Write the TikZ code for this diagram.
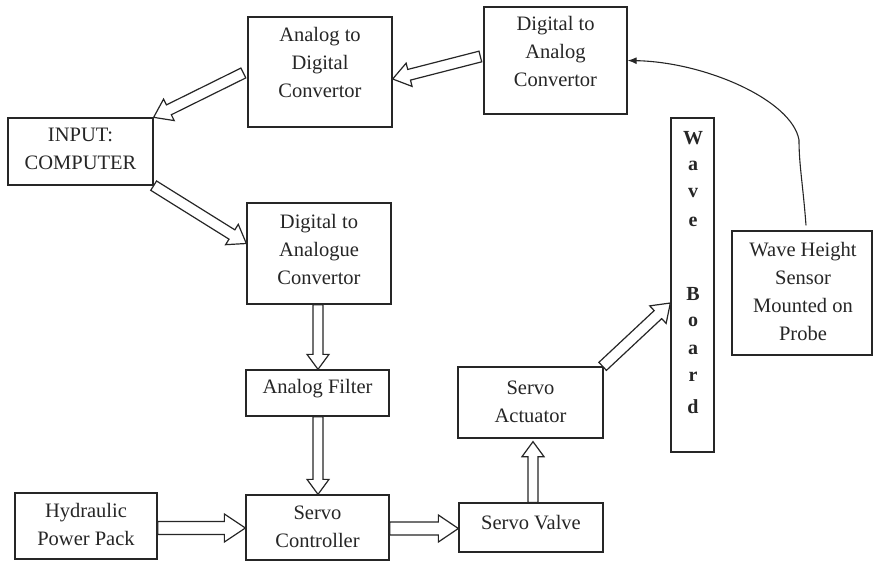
\documentclass[tikz,border=0pt]{standalone}
\usepackage{fontspec}
\setmainfont{Liberation Serif}
\usetikzlibrary{calc,arrows.meta}
\tikzset{
  box/.style={draw=black!85, line width=1.3pt, fill=white, inner sep=0pt, rectangle},
  txt/.style={align=center, inner sep=0pt, font=\fontsize{20.5}{28}\selectfont, text=black!85},
  wbl/.style={inner sep=0pt, font=\fontsize{20}{24}\selectfont\bfseries, text=black!85},
  barrowstyle/.style={draw=black!85, line width=1.2pt, fill=white, line join=miter},
  thin/.style={draw=black!85, line width=1.1pt}
}
\newcommand\barrow[5]{%
  \coordinate (bh) at ($(#2)!#5!(#1)$);
  \draw[barrowstyle] ($(#1)!#3!90:(#2)$) -- ($(bh)!#3!90:(#2)$) -- ($(bh)!#4!90:(#2)$)
     -- (#2) -- ($(bh)!#4!-90:(#2)$) -- ($(bh)!#3!-90:(#2)$) -- ($(#1)!#3!-90:(#2)$) -- cycle;
}
\begin{document}
\begin{tikzpicture}[x=1pt,y=-1pt]
\useasboundingbox (0,0) rectangle (873,562);
% boxes
\node[box, minimum width=144pt, minimum height=110pt] (adc) at (320,72) {};
\node[box, minimum width=143pt, minimum height=107pt] (dac) at (555.5,60.5) {};
\node[box, minimum width=145pt, minimum height=67pt] (inp) at (80.5,151.5) {};
\node[box, minimum width=144pt, minimum height=101pt] (dau) at (319,253.5) {};
\node[box, minimum width=143pt, minimum height=46pt] (filt) at (317.5,393) {};
\node[box, minimum width=142pt, minimum height=66pt] (hyd) at (86,526) {};
\node[box, minimum width=143pt, minimum height=65pt] (ctrl) at (317.5,527.5) {};
\node[box, minimum width=144pt, minimum height=49pt] (valve) at (531,527.5) {};
\node[box, minimum width=145pt, minimum height=71pt] (act) at (530.5,402.5) {};
\node[box, minimum width=43pt, minimum height=334pt] (wb) at (692.5,285) {};
\node[box, minimum width=140pt, minimum height=124pt] (sens) at (802,293) {};
% texts
\node[txt] (adct) at (320,62) {Analog to\\Digital\\Convertor};
\node[txt] (dact) at (555.5,51) {Digital to\\Analog\\Convertor};
\node[txt] (inpt) at (80.5,149) {INPUT:\\COMPUTER};
\node[txt] (daut) at (319,249) {Digital to\\Analogue\\Convertor};
\node[txt] (filtt) at (317.5,389) {Analog Filter};
\node[txt] (hydt) at (86,524) {Hydraulic\\Power Pack};
\node[txt] (ctrlt) at (317.5,527) {Servo\\Controller};
\node[txt] (valvet) at (531,523) {Servo Valve};
\node[txt] (actt) at (530.5,402) {Servo\\Actuator};
\node[txt] (senst) at (803,291) {Wave Height\\Sensor\\Mounted on\\Probe};
\foreach \l/\y [count=\i] in {W/138,a/166,v/193,e/222,B/294,o/322,a/350,r/377,d/407}
  \node[wbl] (wbt\i) at (693,\y) {\l};
% connector coordinates
\coordinate (a1t) at ($(dac.west)+(-3,-4)$);
\coordinate (a1h) at ($(adc.east)+(0,7)$);
\coordinate (a2t) at ($(adc.west)+(-4,1)$);
\coordinate (a2h) at (inp.north east);
\coordinate (a3t) at (inp.south east);
\coordinate (a3h) at ($(dau.west)+(0,-10)$);
\coordinate (a4t) at ($(dau.south)+(-1,0)$);
\coordinate (a4h) at ($(filt.north)+(0.5,0)$);
\coordinate (a5t) at ($(filt.south)+(0.5,0)$);
\coordinate (a5h) at ($(ctrl.north)+(0.5,0)$);
\coordinate (a6t) at ($(hyd.east)+(0,2)$);
\coordinate (a6h) at ($(ctrl.west)+(0,0.5)$);
\coordinate (a7t) at ($(ctrl.east)+(0,1)$);
\coordinate (a7h) at ($(valve.west)+(0,1)$);
\coordinate (a8t) at ($(valve.north)+(2,0)$);
\coordinate (a8h) at ($(act.south)+(2.5,3)$);
\coordinate (a9t) at ($(act.north east)+(-1,0)$);
\coordinate (a9h) at ($(wb.west)+(0,18)$);
% block arrows
\barrow{a1t}{a1h}{5.5pt}{12pt}{17pt}
\barrow{a2t}{a2h}{5.5pt}{12pt}{17pt}
\barrow{a3t}{a3h}{5.5pt}{12pt}{17pt}
\barrow{a4t}{a4h}{5pt}{11pt}{15pt}
\barrow{a5t}{a5h}{5pt}{11pt}{15pt}
\barrow{a6t}{a6h}{6.5pt}{14pt}{21pt}
\barrow{a7t}{a7h}{6.5pt}{13.5pt}{20pt}
\barrow{a8t}{a8h}{5pt}{11pt}{15pt}
\barrow{a9t}{a9h}{5.5pt}{12pt}{17pt}
% feedback curve
\coordinate (cs) at ($(sens.north)+(4,-5)$);
\coordinate (cv) at (799,140);
\draw[thin, -{Latex[length=9pt,width=7pt]}] (cs) .. controls (803,185) and (799,165) .. (cv)
  .. controls (792,100) and (705,62) .. (dac.east);
\end{tikzpicture}
\end{document}
